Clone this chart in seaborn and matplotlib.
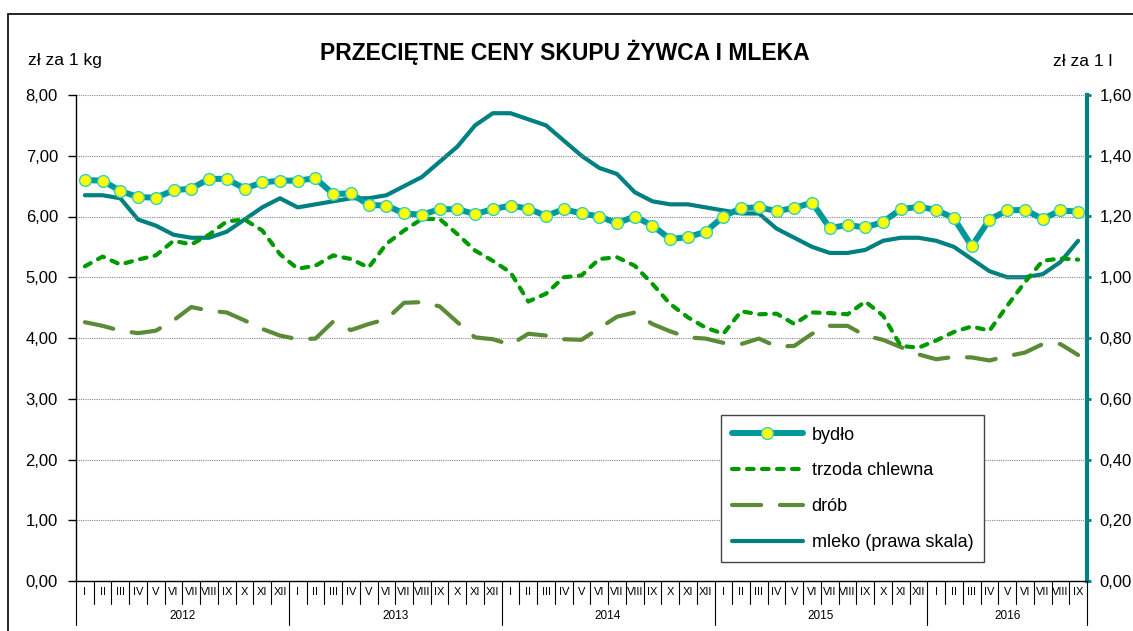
import numpy as np
import pandas as pd
import seaborn as sns
import matplotlib.pyplot as plt
from matplotlib.lines import Line2D
from matplotlib.patches import Rectangle

# Data: monthly prices, I 2012 - IX 2016
years = ['2012', '2013', '2014', '2015', '2016']
months = ['I', 'II', 'III', 'IV', 'V', 'VI', 'VII', 'VIII', 'IX', 'X', 'XI', 'XII']
month_labels = months * 4 + months[:9]

# bydło (zł/kg)
bydlo = [6.60, 6.59, 6.42, 6.32, 6.31, 6.43, 6.46, 6.62, 6.62, 6.46, 6.56, 6.59,
         6.59, 6.63, 6.37, 6.38, 6.19, 6.18, 6.05, 6.03, 6.12, 6.12, 6.04, 6.12,
         6.18, 6.13, 6.01, 6.12, 6.05, 6.00, 5.89, 6.00, 5.85, 5.63, 5.66, 5.75,
         6.00, 6.14, 6.15, 6.09, 6.14, 6.23, 5.81, 5.86, 5.82, 5.91, 6.12, 6.16,
         6.11, 5.97, 5.51, 5.95, 6.10, 6.11, 5.96, 6.10, 6.08]
# trzoda chlewna (zł/kg)
trzoda = [5.18, 5.34, 5.21, 5.29, 5.36, 5.60, 5.54, 5.70, 5.92, 5.95, 5.77, 5.38,
          5.14, 5.19, 5.36, 5.30, 5.16, 5.55, 5.77, 5.96, 5.96, 5.71, 5.44, 5.27,
          5.08, 4.60, 4.73, 5.00, 5.03, 5.30, 5.33, 5.19, 4.89, 4.56, 4.34, 4.17,
          4.07, 4.44, 4.39, 4.40, 4.23, 4.42, 4.41, 4.39, 4.60, 4.37, 3.87, 3.84,
          3.96, 4.10, 4.19, 4.12, 4.53, 4.92, 5.27, 5.31, 5.29]
# drób (zł/kg)
drob = [4.26, 4.20, 4.12, 4.08, 4.12, 4.29, 4.51, 4.45, 4.42, 4.29, 4.15, 4.04,
        3.98, 3.99, 4.27, 4.13, 4.23, 4.31, 4.58, 4.59, 4.52, 4.26, 4.01, 3.98,
        3.89, 4.07, 4.04, 3.98, 3.97, 4.16, 4.35, 4.42, 4.23, 4.11, 4.01, 3.99,
        3.92, 3.90, 3.99, 3.86, 3.87, 4.07, 4.20, 4.20, 4.04, 3.97, 3.85, 3.73,
        3.65, 3.69, 3.68, 3.63, 3.70, 3.76, 3.90, 3.90, 3.72]
# mleko (zł/l, prawa skala)
mleko = [1.27, 1.27, 1.26, 1.19, 1.17, 1.14, 1.13, 1.13, 1.15, 1.19, 1.23, 1.26,
         1.23, 1.24, 1.25, 1.26, 1.26, 1.27, 1.30, 1.33, 1.38, 1.43, 1.50, 1.54,
         1.54, 1.52, 1.50, 1.45, 1.40, 1.36, 1.34, 1.28, 1.25, 1.24, 1.24, 1.23,
         1.22, 1.21, 1.21, 1.16, 1.13, 1.10, 1.08, 1.08, 1.09, 1.12, 1.13, 1.13,
         1.12, 1.10, 1.06, 1.02, 1.00, 1.00, 1.01, 1.05, 1.12]

df = pd.DataFrame({'i': np.arange(len(bydlo)), 'bydlo': bydlo, 'trzoda': trzoda,
                   'drob': drob, 'mleko': mleko})

sns.set_style('white')
plt.rcParams['font.family'] = ['Liberation Sans', 'DejaVu Sans']
plt.rcParams['text.color'] = 'black'
plt.rcParams['xtick.color'] = 'black'
plt.rcParams['ytick.color'] = 'black'
plt.rcParams['axes.labelcolor'] = 'black'

c_bydlo = '#009999'
c_trzoda = '#009900'
c_drob = '#5b8b37'
c_mleko = '#008080'

fig = plt.figure(figsize=(11.33, 6.31), dpi=100)
ax = fig.add_axes([76 / 1133, 1 - 581 / 631, (1087 - 76) / 1133, (581 - 95) / 631])
ax2 = ax.twinx()
ax.set_zorder(ax2.get_zorder() + 1)
ax.patch.set_visible(False)

# outer frame
fig.patches.append(Rectangle((8 / 1133, -0.2), 1.1, 1.2 - 14 / 631, transform=fig.transFigure,
                             fill=False, edgecolor='black', linewidth=1.2))

# mleko on right axis
sns.lineplot(data=df, x='i', y='mleko', ax=ax2, color=c_mleko, linewidth=3.0)

# left axis series
sns.lineplot(data=df, x='i', y='drob', ax=ax, color=c_drob, linewidth=3.0,
             linestyle=(0, (7, 4.5)), dash_capstyle='round')
sns.lineplot(data=df, x='i', y='trzoda', ax=ax, color=c_trzoda, linewidth=3.0,
             linestyle=(0, (1.6, 2.0)), dash_capstyle='round')
sns.lineplot(data=df, x='i', y='bydlo', ax=ax, color=c_bydlo, linewidth=4.3,
             marker='o', markersize=8.5, markerfacecolor='#ffff00',
             markeredgecolor='#33cccc', markeredgewidth=1.0)

n = len(bydlo)
ax.set_xlim(-0.5, n - 0.5)
ax.set_ylim(0, 8)
ax2.set_ylim(0, 1.6)
ax.set_yticks(np.arange(0, 9, 1))
ax.set_yticklabels([f'{v:.2f}'.replace('.', ',') for v in np.arange(0, 9, 1)], fontsize=12)
ax2.set_yticks(np.arange(0, 1.61, 0.2))
ax2.set_yticklabels([f'{v:.2f}'.replace('.', ',') for v in np.arange(0, 1.61, 0.2)], fontsize=12)
ax.set_xlabel('')
ax.set_ylabel('')
ax2.set_ylabel('')

ax.grid(axis='y', color='#888888', linestyle=(0, (1, 1)), linewidth=0.8)
ax.grid(axis='x', visible=False)
for a in (ax, ax2):
    a.spines['top'].set_visible(False)
ax.spines['right'].set_visible(False)
ax2.spines['left'].set_visible(False)
ax2.spines['bottom'].set_visible(False)
ax.spines['left'].set_color('black')
ax.spines['left'].set_linewidth(1.0)
ax.spines['bottom'].set_color('black')
ax.spines['bottom'].set_linewidth(1.0)
ax2.spines['right'].set_color(c_mleko)
ax2.spines['right'].set_linewidth(3.0)

ax.tick_params(axis='y', left=True, length=6, width=1, color='black', pad=7)
ax2.tick_params(axis='y', right=True, length=3, width=2, color=c_mleko, pad=6)

# category axis: month labels and separators
ax.set_xticks([])
xt = ax.get_xaxis_transform()
for i, lab in enumerate(month_labels):
    ax.text(i, -0.023, lab, transform=xt, ha='center', va='center', fontsize=8)
for i in range(n + 1):
    x = i - 0.5
    bottom = -0.091 if (i % 12 == 0 or i == n) else -0.047
    ax.plot([x, x], [0, bottom], transform=xt, color='black', linewidth=0.8, clip_on=False)
for k, yr in enumerate(years):
    start = 12 * k
    end = min(12 * k + 11, n - 1)
    ax.text((start + end) / 2, -0.071, yr, transform=xt, ha='center', va='center', fontsize=8.5)

# titles
fig.text(565 / 1133, 1 - 52 / 631, 'PRZECIĘTNE CENY SKUPU ŻYWCA I MLEKA', ha='center', va='center',
         fontsize=16.5, fontweight='bold')
fig.text(28 / 1133, 1 - 60 / 631, 'zł za 1 kg', ha='left', va='center', fontsize=12.5)
fig.text(1112 / 1133, 1 - 62 / 631, 'zł za 1 l', ha='right', va='center', fontsize=12.5)

# legend
handles = [
    Line2D([], [], color=c_bydlo, linewidth=4.3, marker='o', markersize=8.5,
           markerfacecolor='#ffff00', markeredgecolor='#33cccc', markeredgewidth=1.0),
    Line2D([], [], color=c_trzoda, linewidth=3.0, linestyle=(0, (1.6, 2.0)), dash_capstyle='round'),
    Line2D([], [], color=c_drob, linewidth=3.0, linestyle=(0, (7, 4.5)), dash_capstyle='round'),
    Line2D([], [], color=c_mleko, linewidth=3.0),
]
labels = ['bydło', 'trzoda chlewna', 'drób', 'mleko (prawa skala)']
leg = ax.legend(handles, labels, loc='lower left', bbox_to_anchor=(0.638, 0.039),
                borderaxespad=0, fontsize=13, frameon=True, fancybox=False, handlelength=3.9,
                labelspacing=1.04, borderpad=0.62, handletextpad=0.5, framealpha=1)
leg.get_frame().set_edgecolor('#444444')
leg.get_frame().set_linewidth(1.0)

plt.savefig('out.png', dpi=100)
